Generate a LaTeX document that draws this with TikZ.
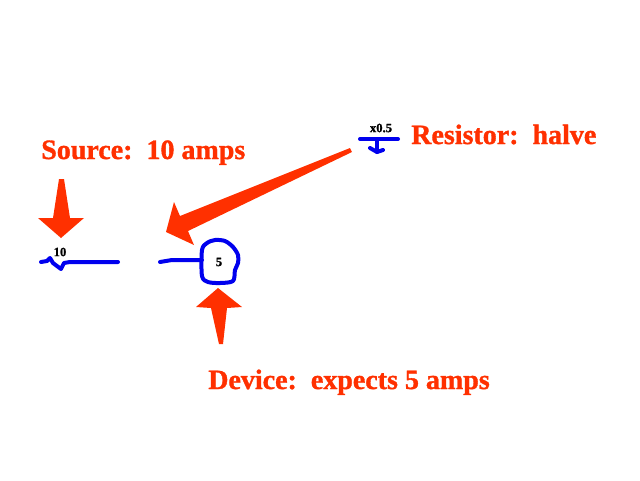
\documentclass[tikz,border=0pt]{standalone}
\usepackage{fontspec}
\setmainfont{Liberation Serif}
\newfontfamily\heavyfont[BoldFont={Liberation Serif Bold},BoldFeatures={FakeBold=1.2}]{Liberation Serif}
\definecolor{callred}{HTML}{FF3000}
\definecolor{wireblue}{HTML}{0000EE}
\tikzset{
  calltext/.style={text=callred, font=\heavyfont\fontsize{21}{21}\selectfont\bfseries, inner sep=0pt, anchor=base west},
  valtext/.style={text=black, font=\heavyfont\fontsize{9.5}{9.5}\selectfont\bfseries, inner sep=0pt},
  wire/.style={draw=wireblue, line width=3pt, line cap=round, line join=round},
  callarrow/.style={fill=callred, draw=none}
}
\begin{document}
\begin{tikzpicture}[x=0.75pt,y=-0.75pt]
\useasboundingbox (0,0) rectangle (640,480);

\node[calltext] (source) at (41,159){Source:\ \ 10 amps};
\node[calltext] (resistor) at (411,144){Resistor:\ \ halve};
\node[calltext] (device) at (208,389){Device:\ \ expects 5 amps};

\fill[callarrow] (59,179) -- (64,179) -- (70,218) -- (84,218) -- (61,238) -- (38,218) -- (53,218) -- cycle;
\fill[callarrow] (218,288) -- (242,307) -- (227,308) -- (223,344) -- (219,344) -- (211,308) -- (196,307) -- cycle;
\fill[callarrow] (166,232) -- (174,202) -- (180,216) -- (350,148) -- (352,152) -- (188,231) -- (194,245) -- cycle;

\node[valtext] (srcval) at (60,252){10};
\node[valtext] (devval) at (219,262){5};
\node[valtext] (resval) at (381,128){x0.5};

\draw[wire] (41,262) -- (47,261) -- (50,258) -- (53,263) -- (61,269) -- (64,263) -- (70,262) -- (118,262);
\draw[wire] (160,262) -- (172,260) -- (202,260);
\draw[wire] plot[smooth cycle, tension=0.5] coordinates {(202,250) (207,243) (215,240) (225,241) (233,247) (238,255) (238,263) (235,270) (233,281) (220,283) (208,282) (202,276)};
\draw[wire] (360,139) -- (398,139);
\draw[wire] (377,139) -- (377,152);
\draw[wire] (370,148) -- (377,152) -- (383,150);
\end{tikzpicture}
\end{document}
